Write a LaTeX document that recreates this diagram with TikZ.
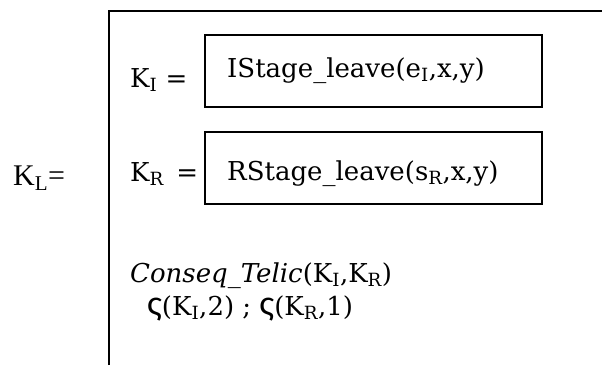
\documentclass[tikz,border=0pt]{standalone}
\usepackage{fontspec}
\setmainfont{DejaVu Serif}
\newfontfamily\timesfont{Liberation Serif}
\newfontfamily\sigmafont{Carlito}
\usetikzlibrary{positioning}

\tikzset{
  txt/.style={anchor=base west, inner sep=0pt, font=\fontsize{26}{30}\selectfont},
  stagebox/.style={draw, line width=1.8pt, minimum width=337, minimum height=72, anchor=north west, inner sep=0pt}
}

\begin{document}
\begin{tikzpicture}[x=1pt,y=-1pt]
  \useasboundingbox (0,0) rectangle (602,365);
  % the open frame
  \draw[line width=2pt] (109,365) -- (109,10.7) -- (602,10.7);
  \node[txt, font=\timesfont\fontsize{30}{34}\selectfont] (kl) at (13,185) {K\textsubscript{L}=};
  % the two stages
  \node[txt] (ki) at (130,87) {K\textsubscript{I} =};
  \node[stagebox] (ibox) at (204,34) {};
  \node[txt] (istage) at (227,77) {IStage\_leave(e\textsubscript{I},x,y)};
  \node[txt] (kr) at (130,181) {K\textsubscript{R} \,=};
  \node[stagebox] (rbox) at (204,131) {};
  \node[txt] (rstage) at (227,180) {RStage\_leave(s\textsubscript{R},x,y)};
  % the relation
  \node[txt] (telic) at (130,282) {\textit{Conseq\_Telic}(K\textsubscript{I},K\textsubscript{R})};
  \node[txt] (weight) at (147,315) {{\sigmafont\fontsize{36}{40}\selectfont ς}(K\textsubscript{I},2) ; {\sigmafont\fontsize{36}{40}\selectfont ς}(K\textsubscript{R},1)};
\end{tikzpicture}
\end{document}
